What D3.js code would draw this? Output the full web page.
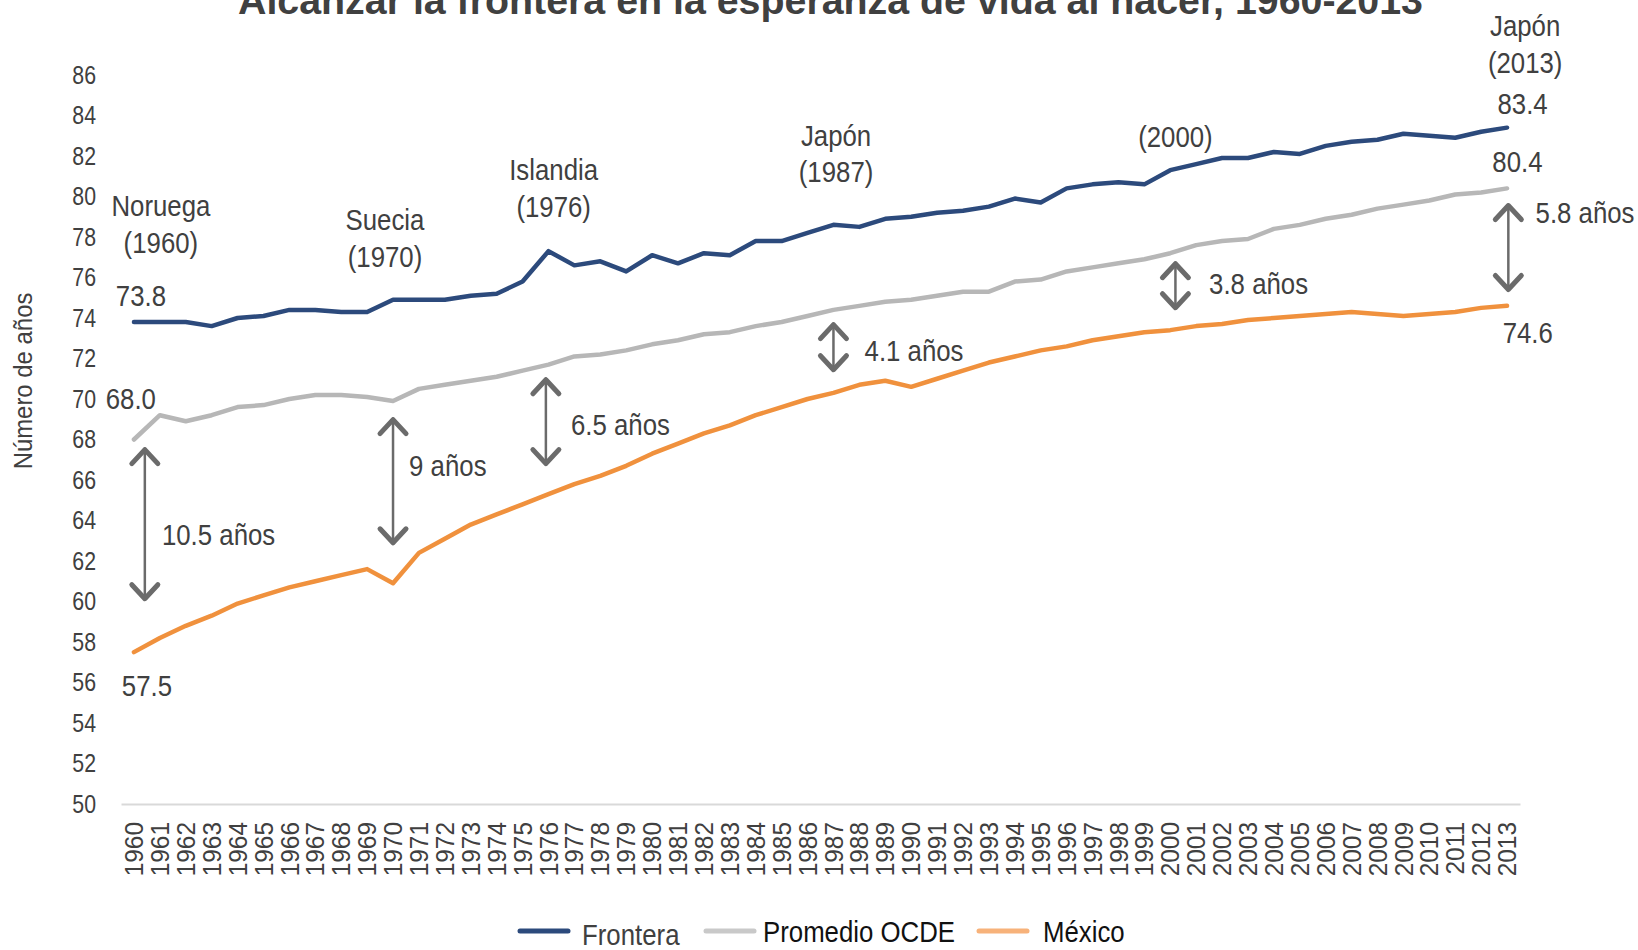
<!DOCTYPE html>
<html>
<head>
<meta charset="utf-8">
<script src="https://cdn.jsdelivr.net/npm/d3@7"></script>
<style>
	html, body { margin:0; padding:0; background:#fff; }
	svg { display:block; font-family:'Liberation Sans',Arial,sans-serif; }
</style>
</head>
<body>
<div id="chart"></div>
<script>
var years = d3.range(1960, 2014);

var frontera = [73.8,73.8,73.8,73.6,74.0,74.1,74.4,74.4,74.3,74.3,
	74.9,74.9,74.9,75.1,75.2,75.8,77.3,76.6,76.8,76.3,
	77.1,76.7,77.2,77.1,77.8,77.8,78.2,78.6,78.5,78.9,
	79.0,79.2,79.3,79.5,79.9,79.7,80.4,80.6,80.7,80.6,
	81.3,81.6,81.9,81.9,82.2,82.1,82.5,82.7,82.8,83.1,
	83.0,82.9,83.2,83.4];

var ocde = [68.0,69.2,68.9,69.2,69.6,69.7,70.0,70.2,70.2,70.1,
	69.9,70.5,70.7,70.9,71.1,71.4,71.7,72.1,72.2,72.4,
	72.7,72.9,73.2,73.3,73.6,73.8,74.1,74.4,74.6,74.8,
	74.9,75.1,75.3,75.3,75.8,75.9,76.3,76.5,76.7,76.9,
	77.2,77.6,77.8,77.9,78.4,78.6,78.9,79.1,79.4,79.6,
	79.8,80.1,80.2,80.4];

var mexico = [57.5,58.2,58.8,59.3,59.9,60.3,60.7,61.0,61.3,61.6,
	60.9,62.4,63.1,63.8,64.3,64.8,65.3,65.8,66.2,66.7,
	67.3,67.8,68.3,68.7,69.2,69.6,70.0,70.3,70.7,70.9,
	70.6,71.0,71.4,71.8,72.1,72.4,72.6,72.9,73.1,73.3,
	73.4,73.6,73.7,73.9,74.0,74.1,74.2,74.3,74.2,74.1,
	74.2,74.3,74.5,74.6];

var seriesNames = ['Frontera', 'Promedio OCDE', 'México'];
var yTicks = d3.range(50, 87, 2);

// annotation texts, anchored in data units (year index, value)
var labels = [
	{t:'Noruega', i:1.04, v:79.05},
	{t:'(1960)', i:1.04, v:77.22},
	{t:'73.8', i:0.27, v:74.6},
	{t:'Suecia', i:9.69, v:78.36},
	{t:'(1970)', i:9.69, v:76.53},
	{t:'Islandia', i:16.2, v:80.83},
	{t:'(1976)', i:16.2, v:79.0},
	{t:'Japón', i:27.1, v:82.47},
	{t:'(1987)', i:27.1, v:80.74},
	{t:'(2000)', i:40.2, v:82.42},
	{t:'Japón', i:53.7, v:87.94},
	{t:'(2013)', i:53.7, v:86.11},
	{t:'83.4', i:53.6, v:84.08},
	{t:'80.4', i:53.4, v:81.22},
	{t:'74.6', i:53.8, v:72.77},
	{t:'68.0', i:-0.12, v:69.53},
	{t:'57.5', i:0.5, v:55.35}
];
var gaps = [
	{t:'10.5 años', i:0.42, top:67.65, bottom:59.99, ti:1.08, tv:62.8},
	{t:'9 años', i:10.0, top:69.13, bottom:62.75, ti:10.62, tv:66.2},
	{t:'6.5 años', i:15.9, top:71.1, bottom:66.66, ti:16.87, tv:68.2},
	{t:'4.1 años', i:27.0, top:73.82, bottom:71.3, ti:28.2, tv:71.9},
	{t:'3.8 años', i:40.2, top:76.83, bottom:74.36, ti:41.5, tv:75.2},
	{t:'5.8 años', i:53.05, top:79.7, bottom:75.26, ti:54.1, tv:78.7}
];

var W = 1638, H = 950;
var colors = ['#2c4a7c', '#b7b7b7', '#f0913d'];
var legendColors = ['#2c4a7c', '#c9c9c9', '#f7b27a'];

// squeeze text horizontally, the original uses a narrow face
function narrow(sel, sx, extra) {
	sel.each(function(){
		var t = d3.select(this)
			, x = +t.attr('x') || 0
			, yy = +t.attr('y') || 0;
		t.attr('x', 0).attr('y', 0)
			.attr('transform', 'translate(' + x + ',' + yy + ')' + (extra || '') + ' scale(' + sx + ',1)');
	});
}

var svg = d3.select('#chart').append('svg')
	.attr('width', W)
	.attr('height', H);

var xBand = d3.scaleBand().domain(years).range([121, 1520]);
var xi = d3.scaleLinear().domain([0, years.length - 1])
	.range([xBand(years[0]) + xBand.bandwidth()/2, xBand(years[years.length-1]) + xBand.bandwidth()/2]);
var y = d3.scaleLinear().domain([50, 86]).range([804, 75]);

// title (cropped at top in the original)
svg.append('text')
	.attr('x', 238)
	.attr('y', 14)
	.attr('font-weight', 'bold')
	.attr('font-size', 38)
	.attr('fill', '#404040')
	.attr('textLength', 1185)
	.attr('lengthAdjust', 'spacingAndGlyphs')
	.text('Alcanzar la frontera en la esperanza de vida al nacer, 1960-2013');

// y axis
var yAxis = svg.append('g')
	.attr('transform', 'translate(121,0)')
	.call(d3.axisLeft(y).tickValues(yTicks).tickSize(0).tickPadding(25));
yAxis.select('.domain').remove();
yAxis.selectAll('text')
	.attr('font-size', 26)
	.attr('font-family', null)
	.attr('fill', '#404040')
	.call(narrow, 0.82);

svg.append('text')
	.attr('x', 32)
	.attr('y', 381)
	.attr('text-anchor', 'middle')
	.attr('font-size', 26)
	.attr('fill', '#404040')
	.text('Número de años')
	.call(narrow, 0.92, ' rotate(-90)');

// x axis
var xAxis = svg.append('g')
	.attr('transform', 'translate(0,' + y(50) + ')')
	.call(d3.axisBottom(xBand).tickSize(0).tickPadding(0));
xAxis.select('.domain')
	.attr('stroke', '#d9d9d9')
	.attr('stroke-width', 2);
xAxis.selectAll('text')
	.attr('font-size', 26)
	.attr('font-family', null)
	.attr('fill', '#404040')
	.attr('text-anchor', 'end')
	.attr('dy', '0.35em')
	.attr('y', 18)
	.call(narrow, 0.94, ' rotate(-90)');

// lines
var line = d3.line()
	.x(function(d, i){ return xi(i); })
	.y(function(d){ return y(d); });
[frontera, ocde, mexico].forEach(function(s, k){
	svg.append('path')
		.datum(s)
		.attr('fill', 'none')
		.attr('stroke', colors[k])
		.attr('stroke-width', 4.5)
		.attr('stroke-linejoin', 'round')
		.attr('stroke-linecap', 'round')
		.attr('d', line);
});

// gap arrows
var arrowCol = '#6b6b6b';
gaps.forEach(function(g){
	var x = xi(g.i), y1 = y(g.top), y2 = y(g.bottom);
	var a = svg.append('g')
		.attr('stroke', arrowCol)
		.attr('fill', 'none')
		.attr('stroke-linecap', 'round')
		.attr('stroke-linejoin', 'round');
	a.append('line')
		.attr('x1', x).attr('x2', x)
		.attr('y1', y1 + 2).attr('y2', y2 - 2)
		.attr('stroke-width', 2.5);
	a.append('path')
		.attr('d', 'M' + (x-13) + ',' + (y1+17) + 'L' + x + ',' + (y1+3) + 'L' + (x+13) + ',' + (y1+17))
		.attr('stroke-width', 5);
	a.append('path')
		.attr('d', 'M' + (x-13) + ',' + (y2-17) + 'L' + x + ',' + (y2-3) + 'L' + (x+13) + ',' + (y2-17))
		.attr('stroke-width', 5);
	svg.append('text')
		.attr('x', xi(g.ti))
		.attr('y', y(g.tv))
		.attr('font-size', 30)
		.attr('fill', '#404040')
		.text(g.t)
		.call(narrow, 0.86);
});

svg.selectAll('text.lbl')
	.data(labels)
	.enter().append('text')
	.attr('class', 'lbl')
	.attr('x', function(d){ return xi(d.i); })
	.attr('y', function(d){ return y(d.v); })
	.attr('text-anchor', 'middle')
	.attr('font-size', 30)
	.attr('fill', '#404040')
	.text(function(d){ return d.t; })
	.call(narrow, 0.86);

// legend
var legX = [520, 706, 979], legTextX = [582, 763, 1043];
var leg = svg.append('g');
seriesNames.forEach(function(n, k){
	leg.append('line')
		.attr('x1', legX[k]).attr('x2', legX[k] + 48)
		.attr('y1', 931).attr('y2', 931)
		.attr('stroke', legendColors[k])
		.attr('stroke-width', 5)
		.attr('stroke-linecap', 'round');
	leg.append('text')
		.attr('x', legTextX[k])
		.attr('y', k === 0 ? 945 : 942)
		.attr('font-size', 30)
		.attr('fill', k === 0 ? '#404040' : '#111')
		.text(n)
		.call(narrow, 0.86);
});
</script>
</body>
</html>
